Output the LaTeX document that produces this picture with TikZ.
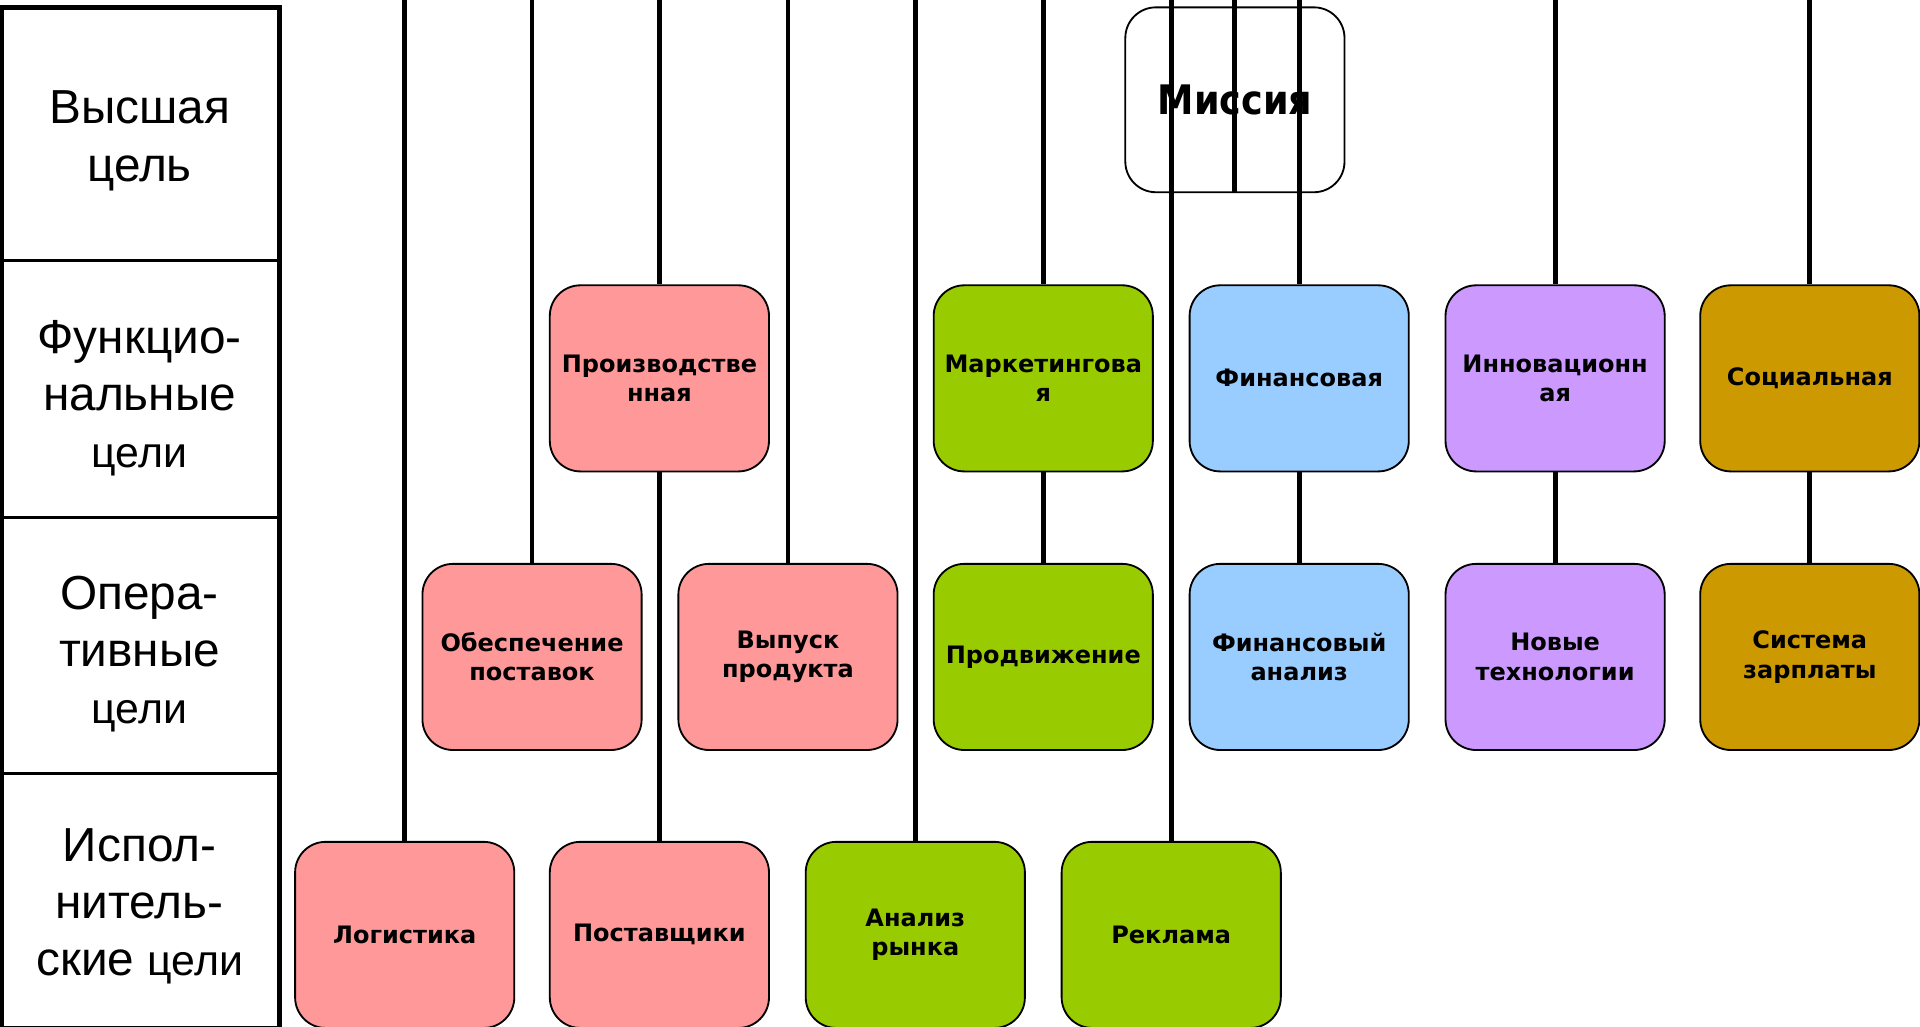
\documentclass[tikz,border=0pt]{standalone}
\usepackage{fontspec}
\setmainfont{Liberation Sans}
\newfontfamily\boxfont{DejaVu Sans}
\newfontfamily\misfont{DejaVu Sans Condensed}
\definecolor{cpink}{HTML}{FF9999}
\definecolor{cgreen}{HTML}{99CC00}
\definecolor{cblue}{HTML}{99CCFF}
\definecolor{cviolet}{HTML}{CC99FF}
\definecolor{cgold}{HTML}{CC9900}
\begin{document}
\begin{tikzpicture}[x=0.5pt,y=-0.5pt,
  goal/.style={draw=black, line width=0.75pt, rounded corners=12.5pt,
    minimum width=89.5pt, minimum height=76pt, align=center, inner sep=0pt,
    font=\boxfont\bfseries\fontsize{9.8}{12}\selectfont},
  link/.style={line width=2pt, black},
  lvl/.style={align=center, font=\fontsize{19.5}{23.3}\selectfont}
]
\useasboundingbox (0,0) rectangle (1568,838.7);
% left table
\draw[line width=2pt] (1,6) rectangle (228,840);
\draw[line width=1.2pt] (1,213) -- (228,213);
\draw[line width=1.2pt] (1,423) -- (228,423);
\draw[line width=1.2pt] (1,632) -- (228,632);
\newcommand{\sm}[1]{{\fontsize{17.5}{23.3}\selectfont #1}}
\node[lvl] (l1) at (114,115) {Высшая\\цель};
\node[lvl] (l2) at (114,325) {Функцио-\\нальные\\\sm{цели}};
\node[lvl] (l3) at (114,534) {Опера-\\тивные\\\sm{цели}};
\node[lvl] (l4) at (114,740) {Испол-\\нитель-\\ские \sm{цели}};
% mission
\node[goal, fill=white, minimum height=75.5pt, font=\misfont\bfseries\fontsize{16.6}{19}\selectfont] (mis) at (1008.5,81.5) {Миссия};
% functional
\node[goal, fill=cpink] (f1) at (538.5,309) {Производстве\\нная};
\node[goal, fill=cgreen] (f2) at (852,309) {Маркетингова\\я};
\node[goal, fill=cblue] (f3) at (1061,309) {Финансовая};
\node[goal, fill=cviolet] (f4) at (1270,309) {Инновационн\\ая};
\node[goal, fill=cgold] (f5) at (1478,309) {Социальная};
% operative
\node[goal, fill=cpink] (o1) at (434.5,536.5) {Обеспечение\\поставок};
\node[goal, fill=cpink] (o2) at (643.5,536.5) {Выпуск\\продукта};
\node[goal, fill=cgreen] (o3) at (852,536.5) {Продвижение};
\node[goal, fill=cblue] (o4) at (1061,536.5) {Финансовый\\анализ};
\node[goal, fill=cviolet] (o5) at (1270,536.5) {Новые\\технологии};
\node[goal, fill=cgold] (o6) at (1478,536.5) {Система\\зарплаты};
% executive
\node[goal, fill=cpink] (e1) at (330.5,763.5) {Логистика};
\node[goal, fill=cpink] (e2) at (538.5,763.5) {Поставщики};
\node[goal, fill=cgreen] (e3) at (747.5,763.5) {Анализ\\рынка};
\node[goal, fill=cgreen] (e4) at (956.5,763.5) {Реклама};
% top ends
\coordinate (t1) at (330.5,-2);
\coordinate (t2) at (434.5,-2);
\coordinate (t3) at (538.5,-2);
\coordinate (t4) at (643.5,-2);
\coordinate (t5) at (747.5,-2);
\coordinate (t6) at (852,-2);
\coordinate (t7) at (956.5,-2);
\coordinate (t8) at (1008.5,-2);
\coordinate (t9) at (1061,-2);
\coordinate (t10) at (1270,-2);
\coordinate (t11) at (1478,-2);
% connectors
\draw[link] (t1) -- (e1.north);
\draw[link] (t2) -- (o1.north);
\draw[link] (t3) -- (f1.north);
\draw[link] (f1.south) -- (e2.north);
\draw[link] (t4) -- (o2.north);
\draw[link] (t5) -- (e3.north);
\draw[link] (t6) -- (f2.north);
\draw[link] (f2.south) -- (o3.north);
\draw[link] (t7) -- (e4.north);
\draw[link] (t8) -- (mis.south);
\draw[link] (t9) -- (f3.north);
\draw[link] (f3.south) -- (o4.north);
\draw[link] (t10) -- (f4.north);
\draw[link] (f4.south) -- (o5.north);
\draw[link] (t11) -- (f5.north);
\draw[link] (f5.south) -- (o6.north);
\end{tikzpicture}
\end{document}
